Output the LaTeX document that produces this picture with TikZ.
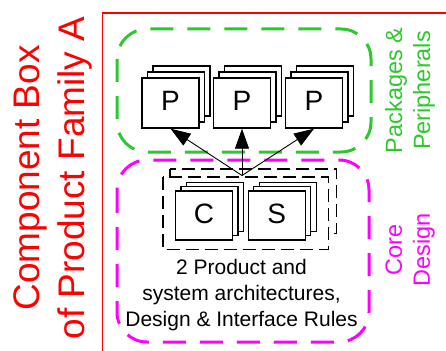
\documentclass[tikz,border=0pt]{standalone}
\usepackage{fontspec}
\setmainfont{Liberation Sans}
\usetikzlibrary{arrows.meta}

\definecolor{pkggreen}{RGB}{44,200,44}
\definecolor{coremagenta}{RGB}{255,0,255}

\tikzset{
  card/.style={draw, fill=white, line width=1.4pt, minimum width=57pt,
    minimum height=50pt, inner sep=0pt, text depth=4pt,
    font=\fontsize{28}{34}\selectfont},
  zone/.style={line width=3pt, rounded corners=30pt, dash pattern=on 23pt off 14pt},
  layer/.style={draw, fill=white, line width=1.5pt, dash pattern=on 13pt off 6pt},
  uplink/.style={line width=0.9pt, -{Triangle[length=20pt,width=14pt]}},
}

\begin{document}
\begin{tikzpicture}[x=1pt, y=-1pt]
  \useasboundingbox (0,0) rectangle (446,350);

  % Product family frame and title
  \draw[red, line width=1.6pt] (452,13) -- (102.5,13) -- (102.5,356);
  \node[rotate=90, anchor=north, align=center, inner sep=0pt, text=red,
    font=\fontsize{37}{45.5}\selectfont] (family) at (13,178)
    {Component Box\\of Product Family A};

  % Outer zones
  \draw[zone, pkggreen] (117,29) rectangle (371,152);
  \draw[zone, coremagenta] (117,160) rectangle (369,342);
  \node[rotate=90, align=center, inner sep=0pt, text=pkggreen,
    font=\fontsize{23.5}{28}\selectfont] (pkglabel) at (410,90.5)
    {Packages \&\\Peripherals};
  \node[rotate=90, align=center, inner sep=0pt, text=coremagenta,
    font=\fontsize{23.5}{28}\selectfont] (corelabel) at (410,250)
    {Core\\Design};

  % Package stacks
  \foreach \i/\x in {1/170.5, 2/242, 3/314} {
    \node[card] at (\x+11,91) {};
    \node[card] at (\x+5.5,97) {};
    \node[card] (p\i) at (\x,103) {P};
  }

  % Core layers (two dashed sheets)
  \draw[layer] (170,169) rectangle (336.7,233.3);
  \draw[layer] (163,177) rectangle (328.3,249.3);

  % Core and system stacks
  \foreach \n/\x/\t in {c/204/C, s/276.7/S} {
    \node[card, minimum height=49pt] at (\x+11,207) {};
    \node[card, minimum height=49pt] at (\x+5.5,211.2) {};
    \node[card, minimum height=49pt] (\n) at (\x,215.4) {\t};
  }

  \node[anchor=north, align=center, inner sep=0pt,
    font=\fontsize{21}{26}\selectfont] (rules) at (241.5,259)
    {2 Product and\\system architectures,\\Design \& Interface Rules};

  % Links from the core to the packages
  \coordinate (hub) at (242,175.5);
  \foreach \i in {1,2,3}
    \draw[uplink] (hub) -- (p\i.south);
\end{tikzpicture}
\end{document}
